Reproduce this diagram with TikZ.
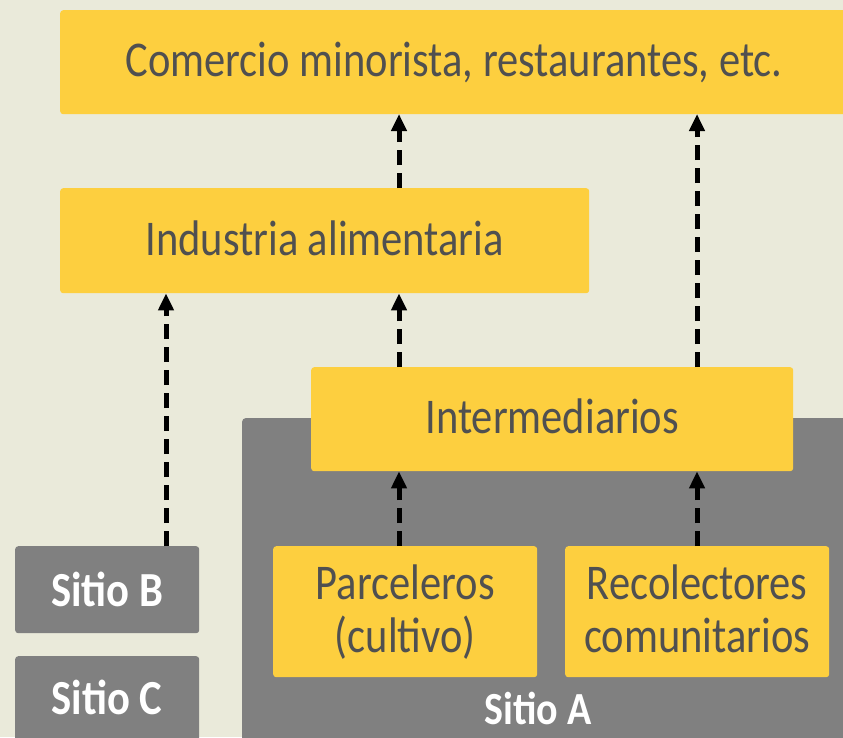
\documentclass[tikz,border=0pt]{standalone}
\usepackage{fontspec}
\setmainfont{Carlito}
\usetikzlibrary{arrows.meta}
\definecolor{bgc}{RGB}{234,234,218}
\definecolor{ylw}{RGB}{253,207,63}
\definecolor{gry}{RGB}{128,128,128}
\definecolor{txt}{RGB}{80,80,80}
\newcommand{\ytext}[1]{\raisebox{-4pt}[\height][\depth]{\scalebox{0.85}[1]{\begin{tabular}{@{}c@{}}#1\end{tabular}}}}
\newcommand{\gtext}[1]{\scalebox{0.87}[1]{#1}}
\tikzset{
  ybox/.style={fill=ylw, rounded corners=3pt, inner sep=0pt, text=txt, font=\fontsize{50}{53}\selectfont, align=center},
  gbox/.style={fill=gry, rounded corners=3pt, inner sep=0pt, text=white, font=\fontsize{49}{52}\selectfont\bfseries, align=center},
  ylab/.style={text=txt, font=\fontsize{50}{53}\selectfont, inner sep=0pt},
  glab/.style={text=white, font=\fontsize{49}{52}\selectfont\bfseries, inner sep=0pt},
  flow/.style={line width=5pt, dash pattern=on 15pt off 8pt, -{Triangle[length=17pt,width=15pt]}}
}
\begin{document}
\begin{tikzpicture}[x=1pt,y=-1pt]
\useasboundingbox (0,0) rectangle (843,737);
\fill[bgc] (0,0) rectangle (843,737);
\begin{scope}
\clip (0,0) rectangle (843,737);
\fill[gry, rounded corners=4pt] (242,418) rectangle (870,760);
\node[ybox, minimum width=800pt, minimum height=104pt, anchor=north west] (com) at (60,10) {};
\node[gbox, minimum width=184pt, minimum height=100pt, anchor=north west] (sc) at (15,656) {};
\end{scope}
\node[ylab] (comt) at (454,62) {\ytext{Comercio minorista, restaurantes, etc.}};
\node[ybox, minimum width=529pt, minimum height=105pt, anchor=north west] (ind) at (60,188) {\ytext{Industria alimentaria}};
\node[ybox, minimum width=482pt, minimum height=104pt, anchor=north west] (int) at (311,367) {\ytext{Intermediarios}};
\node[ybox, minimum width=264pt, minimum height=131pt, anchor=north west] (par) at (273,546) {\ytext{Parceleros\\(cultivo)}};
\node[ybox, minimum width=264pt, minimum height=131pt, anchor=north west] (rec) at (565,546) {\ytext{Recolectores\\comunitarios}};
\node[gbox, minimum width=184pt, minimum height=87pt, anchor=north west] (sb) at (15,546) {\gtext{Sitio B}};
\node[glab] (sct) at (107,697) {\gtext{Sitio C}};
\node[glab, font=\fontsize{46}{50}\selectfont\bfseries] (sa) at (538,708) {\gtext{Sitio A}};
\coordinate (comb1) at (399,114);
\coordinate (comb2) at (697,114);
\draw[flow] (sb.north -| 166,0) -- (ind.south -| 166,0);
\draw[flow] (int.north -| 399,0) -- (ind.south -| 399,0);
\draw[flow] (ind.north -| 399,0) -- (comb1);
\draw[flow] (int.north -| 697,0) -- (comb2);
\draw[flow] (par.north -| 399,0) -- (int.south -| 399,0);
\draw[flow] (rec.north -| 697,0) -- (int.south -| 697,0);
\end{tikzpicture}
\end{document}
